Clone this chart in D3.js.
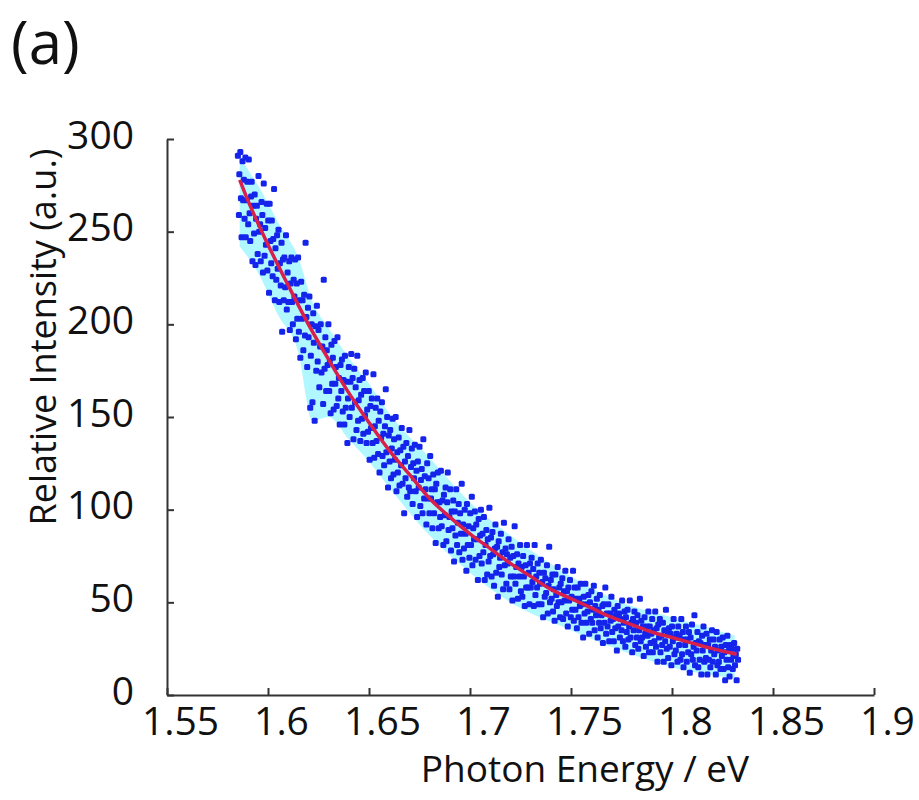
<!DOCTYPE html>
<html>
<head>
<meta charset="utf-8">
<script src="https://cdn.jsdelivr.net/npm/d3@7"></script>
<style>
  body { margin: 0; background: #fff; }
  svg { display: block; }
</style>
</head>
<body>
<div id="vis"></div>
<script>
var width = 919;
var height = 800;

// axis ticks
var xTicks = [1.55, 1.6, 1.65, 1.7, 1.75, 1.8, 1.85, 1.9];
var yTicks = [0, 50, 100, 150, 200, 250, 300];

// fitted curve
var fitEnergy = [1.586, 1.59, 1.60, 1.61, 1.62, 1.63, 1.64, 1.65, 1.66, 1.67, 1.68, 1.69, 1.70,
                 1.71, 1.72, 1.73, 1.74, 1.75, 1.76, 1.77, 1.78, 1.79, 1.80, 1.81, 1.82, 1.832];
var fitIntensity = [278, 267, 243, 221, 200, 181, 163, 147, 132, 119, 106, 96, 87,
                    79, 71, 64, 57, 52, 47, 42, 38, 34, 31, 28, 25, 22];

// cyan error band behind the points
var bandEnergy = [1.586, 1.595, 1.605, 1.615, 1.622, 1.63, 1.64, 1.65, 1.66, 1.68, 1.70, 1.72, 1.75, 1.78, 1.80, 1.831];
var bandLow    = [242, 228, 205, 185, 148, 150, 138, 126, 112, 86, 66, 50, 35, 22, 15, 9];
var bandHigh   = [290, 275, 255, 236, 212, 198, 182, 168, 152, 128, 104, 86, 64, 48, 42, 32];

// measured points [energy, intensity]
var scatterPoints = [
  [1.5851,291],[1.5856,259],[1.5858,281],[1.5863,293],[1.5866,268],[1.5869,247],[1.5874,288],[1.5877,267],[1.5881,278],[1.5884,257],[1.5888,290],[1.5890,247],[1.5895,267],[1.5898,277],[1.5902,254],[1.5905,289],[1.5909,260],[1.5912,245],[1.5916,269],[1.5919,277],[1.5923,234],[1.5926,264],[1.5931,249],[1.5934,270],[1.5938,232],[1.5941,257],[1.5945,264],[1.5949,238],
  [1.5953,280],[1.5956,250],[1.5961,254],[1.5964,234],[1.5968,266],[1.5972,259],[1.5975,228],[1.5979,276],[1.5983,237],[1.5986,252],[1.5990,243],[1.5994,265],[1.5997,229],[1.6001,256],[1.6005,217],[1.6008,265],[1.6012,245],[1.6016,233],[1.6019,256],[1.6023,226],[1.6026,246],[1.6030,273],[1.6034,213],[1.6037,241],[1.6041,224],[1.6045,248],[1.6048,230],[1.6052,251],[1.6056,212],[1.6059,233],[1.6063,221],[1.6067,244],[1.6070,196],[1.6074,235],[1.6078,213],[1.6081,236],[1.6085,220],[1.6089,248],[1.6093,208],[1.6097,228],
  [1.6101,212],[1.6105,234],[1.6108,197],[1.6112,222],[1.6116,236],[1.6119,212],[1.6123,200],[1.6127,224],[1.6131,215],[1.6134,235],[1.6138,192],[1.6142,222],[1.6145,203],[1.6149,236],[1.6153,196],[1.6157,213],[1.6160,182],[1.6164,223],[1.6168,203],[1.6171,213],[1.6175,186],[1.6179,216],[1.6183,194],[1.6186,244],[1.6190,204],[1.6194,177],[1.6198,209],[1.6201,193],[1.6205,215],[1.6209,155],[1.6212,183],[1.6216,200],[1.6220,158],[1.6224,206],[1.6227,190],[1.6231,148],[1.6235,199],[1.6239,175],[1.6242,210],[1.6246,180],
  [1.6250,197],[1.6254,166],[1.6258,188],[1.6261,200],[1.6265,174],[1.6269,188],[1.6273,157],[1.6276,224],[1.6280,176],[1.6284,193],[1.6288,164],[1.6291,186],[1.6295,178],[1.6299,200],[1.6303,164],[1.6306,180],[1.6310,152],[1.6314,189],[1.6318,168],[1.6321,182],[1.6325,154],[1.6329,191],[1.6333,168],[1.6336,177],[1.6340,156],[1.6344,193],[1.6348,160],[1.6351,171],[1.6355,146],[1.6359,178],[1.6363,164],[1.6366,181],[1.6370,153],[1.6374,170],[1.6378,146],[1.6381,183],[1.6385,155],[1.6389,169],[1.6393,136],[1.6396,160],
  [1.6400,177],[1.6404,150],[1.6408,169],[1.6412,184],[1.6415,155],[1.6419,171],[1.6423,138],[1.6427,176],[1.6431,158],[1.6434,166],[1.6438,143],[1.6442,183],[1.6446,148],[1.6449,159],[1.6453,170],[1.6457,137],[1.6461,162],[1.6465,149],[1.6469,171],[1.6472,141],[1.6476,164],[1.6480,151],[1.6484,174],[1.6488,136],[1.6491,154],[1.6495,142],[1.6499,164],[1.6503,127],[1.6507,156],[1.6510,144],[1.6514,160],[1.6518,136],[1.6522,173],[1.6526,128],[1.6529,145],[1.6533,155],[1.6537,137],[1.6541,160],[1.6545,130],[1.6548,148],
  [1.6552,120],[1.6556,153],[1.6560,139],[1.6564,158],[1.6567,129],[1.6571,141],[1.6575,124],[1.6579,145],[1.6583,165],[1.6586,131],[1.6590,150],[1.6594,112],[1.6598,140],[1.6602,126],[1.6605,143],[1.6609,117],[1.6613,133],[1.6617,149],[1.6621,119],[1.6624,138],[1.6628,127],[1.6632,150],[1.6636,110],[1.6640,131],[1.6643,120],[1.6647,139],[1.6651,113],[1.6655,132],[1.6659,124],[1.6662,144],[1.6666,114],[1.6670,134],[1.6674,98],[1.6678,126],[1.6681,117],[1.6685,136],[1.6689,107],[1.6693,129],[1.6697,112],[1.6700,143],
  [1.6704,110],[1.6708,123],[1.6712,133],[1.6716,103],[1.6719,125],[1.6723,117],[1.6727,135],[1.6731,110],[1.6735,121],[1.6738,96],[1.6742,126],[1.6746,112],[1.6750,134],[1.6754,102],[1.6757,116],[1.6761,122],[1.6765,98],[1.6769,138],[1.6773,106],[1.6776,118],[1.6780,111],[1.6784,92],[1.6788,125],[1.6792,106],[1.6795,117],[1.6799,98],[1.6803,129],[1.6807,106],[1.6811,111],[1.6814,90],[1.6818,119],[1.6822,98],[1.6826,111],[1.6830,82],[1.6833,114],[1.6837,104],[1.6841,120],[1.6845,90],[1.6849,104],[1.6852,96],
  [1.6856,121],[1.6860,91],[1.6864,105],[1.6868,81],[1.6871,108],[1.6875,97],[1.6879,112],[1.6883,83],[1.6887,104],[1.6890,120],[1.6894,89],[1.6898,96],[1.6902,111],[1.6906,78],[1.6909,99],[1.6913,90],[1.6917,105],[1.6921,72],[1.6925,99],[1.6928,86],[1.6932,111],[1.6936,81],[1.6940,93],[1.6944,103],[1.6947,77],[1.6951,98],[1.6955,87],[1.6959,114],[1.6963,73],[1.6966,92],[1.6970,79],[1.6974,100],[1.6978,87],[1.6982,67],[1.6985,103],[1.6989,81],[1.6993,91],[1.6997,74],
  [1.7001,98],[1.7005,81],[1.7009,107],[1.7012,70],[1.7016,90],[1.7020,84],[1.7024,99],[1.7028,73],[1.7031,92],[1.7035,84],[1.7039,62],[1.7043,95],[1.7047,75],[1.7050,86],[1.7054,100],[1.7058,71],[1.7062,87],[1.7066,77],[1.7069,96],[1.7073,62],[1.7077,81],[1.7081,89],[1.7085,65],[1.7088,84],[1.7092,72],[1.7096,101],[1.7100,75],[1.7104,85],[1.7107,64],[1.7111,88],[1.7115,76],[1.7119,59],[1.7123,79],[1.7126,92],[1.7130,66],[1.7134,80],[1.7138,53],[1.7142,83],[1.7145,69],[1.7149,74],
  [1.7153,87],[1.7157,65],[1.7161,77],[1.7164,57],[1.7168,93],[1.7172,70],[1.7176,79],[1.7180,60],[1.7183,76],[1.7187,71],[1.7191,84],[1.7195,57],[1.7199,74],[1.7202,64],[1.7206,80],[1.7210,51],[1.7214,75],[1.7218,64],[1.7221,91],[1.7225,60],[1.7229,69],[1.7233,76],[1.7237,52],[1.7240,71],[1.7244,64],[1.7248,81],[1.7252,56],[1.7256,69],[1.7259,53],[1.7263,75],[1.7267,64],[1.7271,48],[1.7275,70],[1.7278,58],[1.7282,81],[1.7286,58],[1.7290,66],[1.7294,49],[1.7297,71],
  [1.7301,58],[1.7305,74],[1.7309,61],[1.7313,68],[1.7316,48],[1.7320,81],[1.7324,54],[1.7328,64],[1.7332,58],[1.7335,71],[1.7339,49],[1.7343,66],[1.7347,60],[1.7351,73],[1.7354,49],[1.7358,61],[1.7362,42],[1.7366,66],[1.7370,53],[1.7373,63],[1.7377,55],[1.7381,70],[1.7385,44],[1.7389,59],[1.7392,80],[1.7396,50],[1.7400,62],[1.7404,52],[1.7408,65],[1.7411,45],[1.7415,57],[1.7419,40],[1.7423,65],[1.7427,54],[1.7430,48],[1.7434,69],[1.7438,50],[1.7442,58],[1.7446,42],[1.7449,60],
  [1.7453,50],[1.7457,63],[1.7461,41],[1.7465,56],[1.7468,51],[1.7472,67],[1.7476,44],[1.7480,56],[1.7484,37],[1.7487,58],[1.7491,51],[1.7495,62],[1.7499,42],[1.7503,53],[1.7506,46],[1.7510,67],[1.7514,40],[1.7518,58],[1.7522,46],[1.7525,52],[1.7529,36],[1.7533,58],[1.7537,42],[1.7541,52],[1.7544,48],[1.7548,60],[1.7552,39],[1.7556,49],[1.7560,31],[1.7563,53],[1.7567,44],[1.7571,60],[1.7575,39],[1.7579,49],[1.7582,45],[1.7586,54],[1.7590,33],[1.7594,50],[1.7598,41],
  [1.7601,56],[1.7605,39],[1.7609,46],[1.7613,59],[1.7617,35],[1.7620,48],[1.7624,43],[1.7628,52],[1.7632,31],[1.7636,46],[1.7639,39],[1.7643,54],[1.7647,36],[1.7651,43],[1.7655,48],[1.7658,28],[1.7662,49],[1.7666,39],[1.7670,58],[1.7674,33],[1.7677,44],[1.7681,37],[1.7685,49],[1.7689,29],[1.7693,44],[1.7696,40],[1.7700,53],[1.7704,34],[1.7708,41],[1.7712,29],[1.7715,46],[1.7719,36],[1.7723,43],[1.7727,24],[1.7731,48],[1.7734,37],[1.7738,44],[1.7742,31],[1.7746,41],
  [1.7750,35],[1.7753,51],[1.7757,29],[1.7761,39],[1.7765,45],[1.7769,26],[1.7772,42],[1.7776,34],[1.7780,46],[1.7784,30],[1.7788,37],[1.7791,51],[1.7795,31],[1.7799,39],[1.7803,23],[1.7807,41],[1.7810,35],[1.7814,45],[1.7818,27],[1.7822,39],[1.7826,31],[1.7829,43],[1.7833,25],[1.7837,35],[1.7841,52],[1.7845,29],[1.7848,40],[1.7852,31],[1.7856,37],[1.7860,21],[1.7864,42],[1.7867,33],[1.7871,26],[1.7875,37],[1.7879,32],[1.7883,45],[1.7886,23],[1.7890,37],[1.7894,28],[1.7898,33],
  [1.7902,41],[1.7905,23],[1.7909,35],[1.7913,29],[1.7917,45],[1.7921,26],[1.7924,36],[1.7928,18],[1.7932,38],[1.7936,31],[1.7940,41],[1.7943,23],[1.7947,32],[1.7951,27],[1.7955,39],[1.7959,18],[1.7962,35],[1.7966,29],[1.7970,46],[1.7974,25],[1.7978,33],[1.7981,20],[1.7985,36],[1.7989,26],[1.7993,33],[1.7997,16],[1.8000,37],[1.8004,29],[1.8008,41],[1.8012,22],[1.8016,31],[1.8019,24],[1.8023,33],[1.8027,18],[1.8031,37],[1.8035,27],[1.8038,32],[1.8042,19],[1.8046,41],
  [1.8050,22],[1.8054,34],[1.8057,15],[1.8061,30],[1.8065,27],[1.8069,37],[1.8073,18],[1.8076,30],[1.8080,23],[1.8084,34],[1.8088,12],[1.8092,31],[1.8095,22],[1.8099,38],[1.8103,19],[1.8107,26],[1.8111,43],[1.8114,16],[1.8118,28],[1.8122,24],[1.8126,34],[1.8130,15],[1.8133,29],[1.8137,19],[1.8141,28],[1.8145,11],[1.8149,32],[1.8152,24],[1.8156,37],[1.8160,18],[1.8164,27],[1.8168,20],[1.8171,33],[1.8175,11],[1.8179,27],[1.8183,19],[1.8187,30],[1.8190,15],[1.8194,24],[1.8198,35],
  [1.8202,18],[1.8206,30],[1.8209,22],[1.8213,26],[1.8217,11],[1.8221,34],[1.8225,16],[1.8228,24],[1.8232,18],[1.8236,30],[1.8240,14],[1.8244,26],[1.8247,21],[1.8251,31],[1.8255,14],[1.8259,23],[1.8263,8],[1.8266,27],[1.8270,19],[1.8274,32],[1.8278,15],[1.8282,24],[1.8285,10],[1.8289,27],[1.8293,19],[1.8297,25],[1.8301,14],[1.8304,21],[1.8308,28],[1.8312,16],[1.8316,22],[1.8320,8],[1.8323,25],[1.8327,19]
];

var font = "'Open Sans', 'Noto Sans', sans-serif";

var canvas = d3.select("#vis")
               .append("svg")
               .attr("width", width)
               .attr("height", height)
               .style("background-color", "#fff");

const x = d3.scaleLinear()
        .domain([1.55, 1.9])
        .range([167, 874]);

const y = d3.scaleLinear()
        .domain([0, 300])
        .range([695, 139]);

// cyan band
var band = d3.area()
        .x((d, i) => x(bandEnergy[i]))
        .y0((d, i) => y(bandLow[i]))
        .y1((d, i) => y(bandHigh[i]))
        .curve(d3.curveMonotoneX);

canvas.append("path")
        .datum(bandEnergy)
        .attr("d", band)
        .style("fill", "#8ef4ff")
        .style("opacity", 0.7);

// points
var ms = 6;
canvas.append("g")
        .selectAll("rect")
        .data(scatterPoints)
        .enter()
        .append("rect")
        .attr("x", d => x(d[0]) - ms / 2)
        .attr("y", d => y(d[1]) - ms / 2)
        .attr("width", ms)
        .attr("height", ms)
        .attr("rx", 1.5)
        .style("fill", "#1424ea");

// fit line
var fitLine = d3.line()
        .x((d, i) => x(fitEnergy[i]))
        .y((d, i) => y(fitIntensity[i]))
        .curve(d3.curveMonotoneX);

canvas.append("path")
        .datum(fitEnergy)
        .attr("d", fitLine)
        .style("fill", "none")
        .style("stroke", "#d8204a")
        .style("stroke-width", 3.5);

// axes (MATLAB style, ticks pointing in)
const xAxis = d3.axisBottom(x)
        .tickValues(xTicks)
        .tickFormat(d => d3.format("")(+d.toFixed(2)))
        .tickSizeInner(-7)
        .tickSizeOuter(0);

var gx = canvas.append("g")
        .attr("transform", `translate(0, ${y(0)})`)
        .call(xAxis);

gx.selectAll("text")
        .attr("y", 40)
        .attr("dy", null)
        .attr("dx", 13)
        .style("font-family", font)
        .style("font-size", "39px")
        .style("fill", "#111");

const yAxis = d3.axisLeft(y)
        .tickValues(yTicks)
        .tickSizeInner(-7)
        .tickSizeOuter(0);

var gy = canvas.append("g")
        .attr("transform", `translate(${x(1.55)}, 0)`)
        .call(yAxis);

gy.selectAll("text")
        .attr("x", -33)
        .attr("dy", "0.36em")
        .attr("y", -5)
        .style("font-family", font)
        .style("font-size", "39px")
        .style("fill", "#111");

canvas.selectAll(".domain, .tick line")
        .style("stroke", "#333")
        .style("stroke-width", 2);

// axis titles
canvas.append("text")
        .attr("x", 585)
        .attr("y", 782)
        .attr("text-anchor", "middle")
        .style("font-family", font)
        .style("font-size", "37px")
        .style("fill", "#111")
        .text("Photon Energy / eV");

canvas.append("text")
        .attr("transform", "translate(56, 337) rotate(-90)")
        .attr("text-anchor", "middle")
        .style("font-family", font)
        .style("font-size", "36px")
        .style("fill", "#111")
        .text("Relative Intensity (a.u.)");

canvas.append("text")
        .attr("x", 11)
        .attr("y", 64)
        .style("font-family", font)
        .style("font-size", "60px")
        .style("fill", "#111")
        .text("(a)");
</script>
</body>
</html>
